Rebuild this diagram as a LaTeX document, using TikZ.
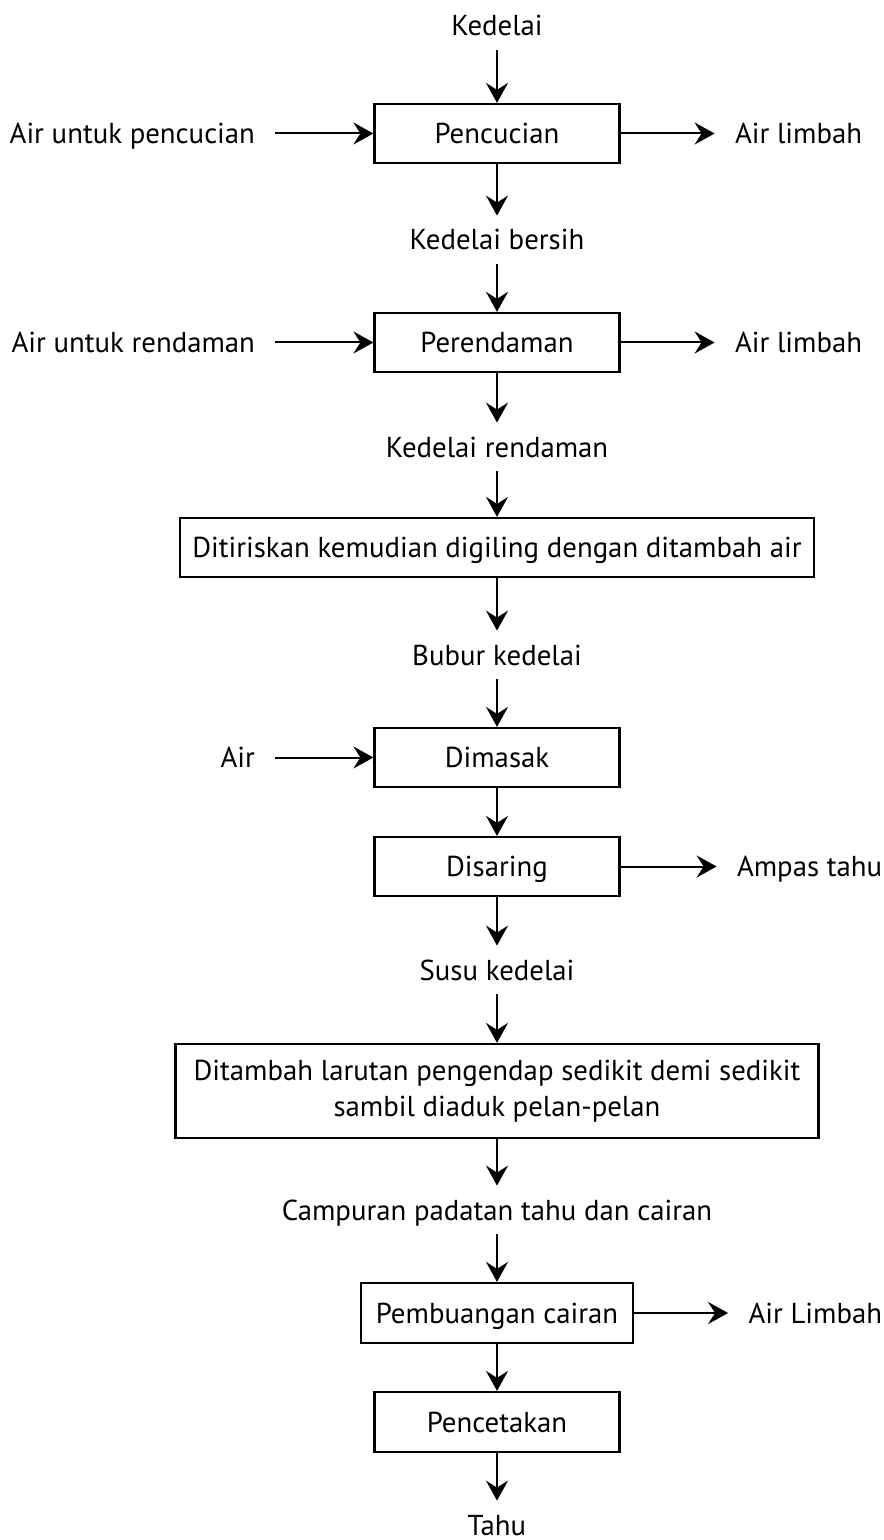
\documentclass[tikz,border=0pt]{standalone}
\usepackage{fontspec}
\setmainfont{PT Sans}
\usetikzlibrary{arrows.meta, positioning}

\begin{document}
\begin{tikzpicture}[x=0.5pt, y=-0.5pt,
    every node/.style={font=\fontsize{14.4}{18}\selectfont},
    kotak/.style={draw, line width=1.1pt, minimum width=122.5pt, minimum height=29.5pt,
        inner sep=0pt, align=center},
    proses/.style={kotak, text height=10.5pt, text depth=0.5pt},
    bahan/.style={inner xsep=10pt, inner ysep=0pt, minimum height=24pt,
        text height=10.5pt, text depth=0.5pt},
    alir/.style={line width=1pt, -{Stealth[length=10pt, width=11pt, inset=3.5pt]}}]
    \useasboundingbox (0,0) rectangle (883,1540);

    % 1. Kotak proses pada kolom tengah
    \node[proses] (cuci) at (497,133.5) {Pencucian};
    \node[proses] (rendam) at (497,342.5) {Perendaman};
    \node[proses, minimum width=317pt] (giling) at (497,547.5) {Ditiriskan kemudian digiling dengan ditambah air};
    \node[proses] (masak) at (497,757.5) {Dimasak};
    \node[proses] (saring) at (497,866.5) {Disaring};
    \node[kotak, minimum width=321.5pt, minimum height=47pt] (endap) at (497,1091)
        {Ditambah larutan pengendap sedikit demi sedikit\\ sambil diaduk pelan-pelan};
    \node[proses, minimum width=136pt, minimum height=30pt] (buang) at (497,1313) {Pembuangan cairan};
    \node[proses, minimum height=30pt] (cetak) at (497,1422) {Pencetakan};

    % 2. Bahan antara pada kolom tengah
    \node[bahan] (kedelai) at (497,26) {Kedelai};
    \node[bahan] (bersih) at (497,240) {Kedelai bersih};
    \node[bahan] (krendam) at (497,447) {Kedelai rendaman};
    \node[bahan] (bubur) at (497,655) {Bubur kedelai};
    \node[bahan] (susu) at (497,970) {Susu kedelai};
    \node[bahan] (campur) at (497,1210) {Campuran padatan tahu dan cairan};
    \node[bahan] (tahu) at (497,1525) {Tahu};

    % 3. Masukan dan keluaran di samping
    \node[bahan, left=49pt of cuci] (aircuci) {Air untuk pencucian};
    \node[bahan, right=47pt of cuci] (limbah1) {Air limbah};
    \node[bahan, left=49pt of rendam] (airrendam) {Air untuk rendaman};
    \node[bahan, right=47pt of rendam] (limbah2) {Air limbah};
    \node[bahan, left=49pt of masak] (airmasak) {Air};
    \node[bahan, right=48pt of saring] (ampas) {Ampas tahu};
    \node[bahan, right=47pt of buang] (limbah3) {Air Limbah};

    % 4. Panah alur utama
    \draw[alir] (kedelai) -- (cuci);
    \draw[alir] (cuci) -- (bersih);
    \draw[alir] (bersih) -- (rendam);
    \draw[alir] (rendam) -- (krendam);
    \draw[alir] (krendam) -- (giling);
    \draw[alir] (giling) -- (bubur);
    \draw[alir] (bubur) -- (masak);
    \draw[alir] (masak) -- (saring);
    \draw[alir] (saring) -- (susu);
    \draw[alir] (susu) -- (endap);
    \draw[alir] (endap) -- (campur);
    \draw[alir] (campur) -- (buang);
    \draw[alir] (buang) -- (cetak);
    \draw[alir] (cetak) -- (tahu);

    % 5. Panah samping
    \draw[alir] (aircuci) -- (cuci);
    \draw[alir] (cuci) -- (limbah1);
    \draw[alir] (airrendam) -- (rendam);
    \draw[alir] (rendam) -- (limbah2);
    \draw[alir] (airmasak) -- (masak);
    \draw[alir] (saring) -- (ampas);
    \draw[alir] (buang) -- (limbah3);

\end{tikzpicture}
\end{document}
